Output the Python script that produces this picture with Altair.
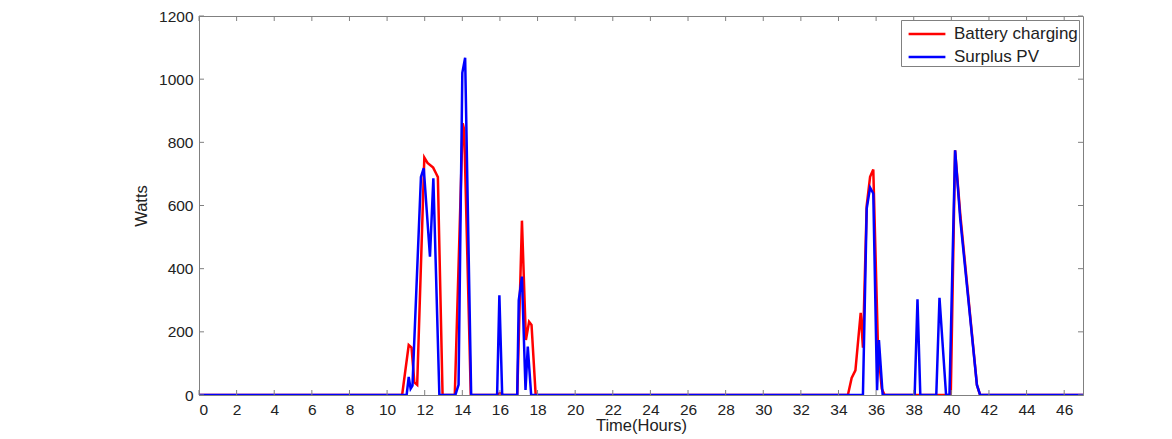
import altair as alt
import pandas as pd

# Battery charging (red)
red_t = [0, 10.8, 11.15, 11.3, 11.45, 11.6, 11.98, 12.15, 12.45, 12.6, 12.7, 12.95,
         13.6, 14.02, 14.1, 14.45, 15.8, 16.0, 16.2, 16.92, 17.17, 17.38, 17.55, 17.68, 17.9,
         34.5, 34.7, 34.9, 35.18, 35.3, 35.5, 35.68, 35.85, 36.1, 36.3, 36.45,
         39.97, 40.2, 40.47, 41.36, 41.53, 47]
red_w = [0, 0, 158, 150, 40, 32, 752, 735, 720, 702, 690, 0,
         0, 860, 840, 0, 0, 6, 0, 0, 552, 174, 232, 222, 0,
         0, 54, 78, 260, 150, 600, 691, 714, 150, 20, 0,
         0, 775, 575, 32, 0, 0]

# Surplus PV (blue)
blue_t = [0, 11.04, 11.15, 11.25, 11.35, 11.8, 11.95, 12.28, 12.46, 12.78,
          13.63, 13.8, 14.0, 14.15, 14.47, 15.85, 15.97, 16.12,
          16.92, 17.0, 17.17, 17.36, 17.48, 17.66,
          35.3, 35.5, 35.68, 35.85, 36.05, 36.15, 36.35,
          38.05, 38.2, 38.35, 39.2, 39.37, 39.72, 39.9, 40.2, 40.47, 41.36, 41.53, 47]
blue_w = [0, 0, 57, 20, 30, 690, 718, 438, 686, 0,
          0, 32, 1020, 1068, 0, 0, 316, 0,
          0, 300, 375, 16, 153, 0,
          0, 590, 657, 638, 15, 174, 0,
          0, 303, 0, 0, 308, 0, 0, 775, 559, 32, 0, 0]

series_names = ["Battery charging", "Surplus PV"]
series_colors = ["#ff0000", "#0000ff"]
x_ticks = list(range(0, 47, 2))
y_ticks = list(range(0, 1201, 200))

W, H = 884, 379
FONT = "Liberation Sans"
GRAY = "#808080"
TXT = "#222222"

red_df = pd.DataFrame({"t": red_t, "w": red_w, "s": series_names[0]})
blue_df = pd.DataFrame({"t": blue_t, "w": blue_w, "s": series_names[1]})

xscale = alt.Scale(domain=[0, 47], nice=False, zero=False)
yscale = alt.Scale(domain=[0, 1200], nice=False)

color = alt.Color("s:N", scale=alt.Scale(domain=series_names, range=series_colors),
                  legend=alt.Legend(title=None, orient="top-right", offset=4,
                                    symbolType="M-1.6,0H1.6", symbolSize=529,
                                    symbolStrokeWidth=2.5, symbolOffset=12,
                                    labelFont=FONT, labelFontSize=17, labelColor=TXT,
                                    strokeColor=GRAY, fillColor="white", padding=1,
                                    rowPadding=2, labelOffset=14, labelLimit=300))

xaxis = alt.Axis(values=x_ticks, title="Time(Hours)", grid=False, ticks=False,
                 labelPadding=7, titlePadding=0, format="d", labelOverlap=False,
                 labelFont=FONT, labelFontSize=15.5, labelColor=TXT,
                 titleFont=FONT, titleFontSize=16.5, titleFontWeight="normal",
                 titleColor=TXT, domainColor=GRAY)
yaxis = alt.Axis(values=y_ticks, title="Watts", grid=False, ticks=False,
                 labelPadding=6, titlePadding=9, format="d", labelOverlap=False,
                 labelFont=FONT, labelFontSize=15.5, labelColor=TXT,
                 titleFont=FONT, titleFontSize=16.5, titleFontWeight="normal",
                 titleColor=TXT, domainColor=GRAY)

xenc = alt.X("t:Q", scale=xscale, axis=xaxis)
yenc = alt.Y("w:Q", scale=yscale, axis=yaxis)

red_line = alt.Chart(red_df).mark_line(strokeWidth=2.5, clip=True).encode(
    x=xenc, y=yenc, color=color)
blue_line = alt.Chart(blue_df).mark_line(strokeWidth=2.5, clip=True).encode(
    x=xenc, y=yenc, color=color)

xt = pd.DataFrame({"t": x_ticks})
yt = pd.DataFrame({"w": y_ticks})
tick_style = dict(color=GRAY, strokeWidth=1)
xb = alt.Chart(xt).mark_rule(**tick_style).encode(x=xenc, y=alt.value(H), y2=alt.value(H - 5))
xtop = alt.Chart(xt).mark_rule(**tick_style).encode(x=xenc, y=alt.value(0), y2=alt.value(5))
yl = alt.Chart(yt).mark_rule(**tick_style).encode(y=yenc, x=alt.value(0), x2=alt.value(5))
yr = alt.Chart(yt).mark_rule(**tick_style).encode(y=yenc, x=alt.value(W), x2=alt.value(W - 5))

chart = alt.layer(red_line, blue_line, xb, xtop, yl, yr).properties(
    width=W, height=H,
    background="white",
    autosize=alt.AutoSizeParams(type="none"),
    padding={"left": 191, "top": 8, "right": 81, "bottom": 44},
).configure_view(stroke=GRAY, strokeWidth=1)

chart.save("out.html", embed_options={"renderer": "svg", "actions": False})
